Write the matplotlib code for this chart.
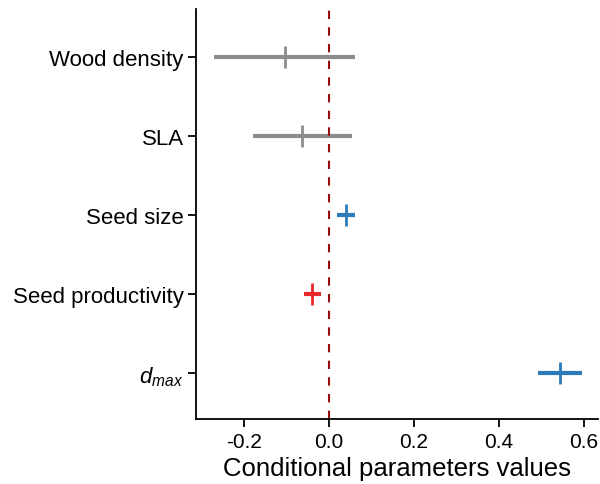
import matplotlib
matplotlib.use("Agg")
import matplotlib.pyplot as plt

# ── DATA ────────────────────────────────────────────────
traits = ["Wood density", "SLA", "Seed size", "Seed productivity", r"$d_{max}$"]
means  = [-0.102, -0.062, 0.040, -0.039, 0.545]
lower  = [-0.269, -0.178, 0.019, -0.058, 0.492]
upper  = [0.062, 0.055, 0.062, -0.018, 0.597]
colors = ["#8c8c8c", "#8c8c8c", "#2b7bba", "#e8282b", "#2b7bba"]

plt.rcParams["font.family"] = ["Liberation Sans", "DejaVu Sans"]
plt.rcParams["mathtext.fontset"] = "custom"
plt.rcParams["mathtext.it"] = "Liberation Sans:italic"
plt.rcParams["mathtext.rm"] = "Liberation Sans"

fig = plt.figure(figsize=(6, 4.85), dpi=100)
ax = fig.add_axes([0.327, 0.134, 0.67, 0.845])

ypos = list(range(len(traits), 0, -1))
for y, m, lo, hi, c in zip(ypos, means, lower, upper, colors):
    ax.plot([lo, hi], [y, y], color=c, lw=3, solid_capstyle="butt")
    ax.plot([m], [y], marker="|", color=c, ms=16, mew=2)

ax.axvline(0, color="#9b0a0a", ls=(0, (4, 4)), lw=1.5)

ax.set_xlim(-0.312, 0.634)
ax.set_ylim(0.42, 5.6)
ax.set_yticks(ypos)
ax.set_yticklabels(traits, fontsize=16)
ax.set_xticks([-0.2, 0.0, 0.2, 0.4, 0.6])
ax.set_xticklabels(["-0.2", "0.0", "0.2", "0.4", "0.6"], fontsize=15)
ax.set_xlabel("Conditional parameters values", fontsize=18.5, labelpad=4)

for s in ["top", "right"]:
    ax.spines[s].set_visible(False)
for s in ["left", "bottom"]:
    ax.spines[s].set_linewidth(1.3)
ax.tick_params(axis="both", length=6, width=1.3, colors="black", pad=3)

plt.savefig("out.png", dpi=100)
